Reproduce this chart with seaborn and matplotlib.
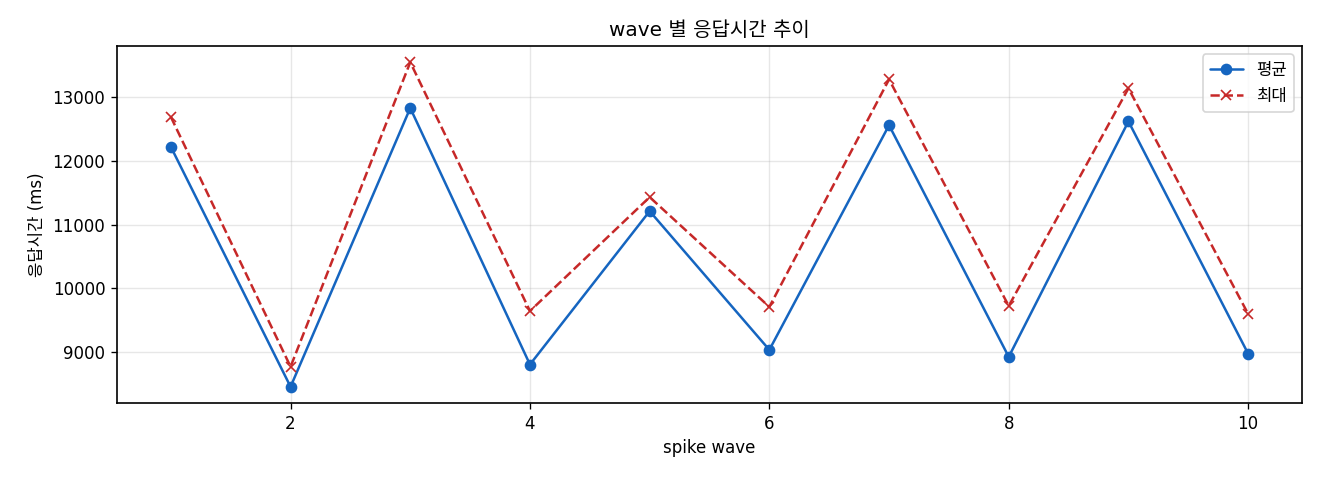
import matplotlib
matplotlib.use("Agg")
import matplotlib.pyplot as plt
import seaborn as sns
import pandas as pd

waves = [1, 2, 3, 4, 5, 6, 7, 8, 9, 10]
avg_ms = [12220, 8450, 12830, 8800, 11210, 9030, 12560, 8920, 12620, 8970]
max_ms = [12690, 8765, 13550, 9640, 11430, 9705, 13280, 9720, 13140, 9595]

sns.set_style("ticks")
plt.rcParams['font.family'] = ['DejaVu Sans', 'Noto Sans CJK KR']
plt.rcParams['axes.unicode_minus'] = False
for k in ['text.color', 'axes.labelcolor', 'xtick.color', 'ytick.color', 'axes.edgecolor']:
    plt.rcParams[k] = 'black'

df = pd.DataFrame({"wave": waves, "avg": avg_ms, "max": max_ms})

fig, ax = plt.subplots(figsize=(11, 4), dpi=120)
sns.lineplot(data=df, x="wave", y="avg", ax=ax, color="#1565C0", marker="o",
             markersize=6, markeredgewidth=1.0, markeredgecolor="#1565C0",
             linewidth=1.5, label="평균")
sns.lineplot(data=df, x="wave", y="max", ax=ax, color="#C62828", marker="x",
             markersize=6, markeredgewidth=1.0, markeredgecolor="#C62828",
             linewidth=1.5, dashes=(3.7, 1.6), label="최대")

ax.set_title("wave 별 응답시간 추이", fontsize=12)
ax.set_xlabel("spike wave", fontsize=10)
ax.set_ylabel("응답시간 (ms)", fontsize=10)
ax.tick_params(labelsize=10, colors='black')
ax.grid(True, alpha=0.3, color='#b0b0b0')
ax.legend(loc="upper right", fontsize=10)
for s in ax.spines.values():
    s.set_visible(True)
    s.set_linewidth(1.0)
    s.set_color("black")

fig.subplots_adjust(left=117/1320, right=1302/1320, top=1-46/480, bottom=1-403/480)
fig.savefig("out.png", dpi=120)
